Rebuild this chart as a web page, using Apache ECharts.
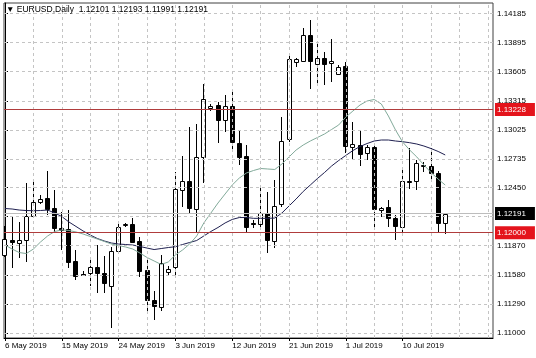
<!DOCTYPE html>
<html><head><meta charset="utf-8">
<script src="https://cdn.jsdelivr.net/npm/echarts@6/dist/echarts.min.js"></script>
<style>html,body{margin:0;padding:0;background:#fff}#c{width:536px;height:358px}</style>
</head><body><div id="c"></div>
<script>
// Bar index 0 = 6 May 2019 (daily bars incl. Sunday bars) ... 62 = 17 Jul 2019
var opens  = [1.11778,1.11930,1.11900,1.11927,1.12166,1.12306,1.12343,1.12243,1.12050,1.12034,1.11718,1.11588,1.11595,1.11661,1.11601,1.11469,1.11820,1.12072,1.12087,1.11920,1.11628,1.11329,1.11262,1.11608,1.11661,1.12426,1.12518,1.12233,1.12752,1.13243,1.13273,1.13123,1.13263,1.12897,1.12765,1.12092,1.12087,1.12194,1.11920,1.12286,1.12931,1.13702,1.13712,1.13971,1.13679,1.13737,1.13687,1.13582,1.13662,1.12859,1.12874,1.12791,1.12857,1.12226,1.12253,1.12144,1.12060,1.12520,1.12520,1.12665,1.12665,1.12598,1.12101];
var highs  = [1.12067,1.12159,1.12110,1.12492,1.12525,1.12376,1.12618,1.12426,1.12210,1.12226,1.11828,1.11618,1.11728,1.11877,1.11767,1.11860,1.12110,1.12097,1.12144,1.11960,1.11728,1.11419,1.11778,1.11668,1.12608,1.12765,1.13051,1.13084,1.13482,1.13283,1.13306,1.13373,1.13430,1.13024,1.12874,1.12126,1.12459,1.12409,1.12525,1.13156,1.13772,1.13742,1.14041,1.14121,1.13904,1.13804,1.13928,1.13672,1.13705,1.13107,1.13017,1.12874,1.12864,1.12261,1.12326,1.12177,1.12625,1.12847,1.12725,1.12700,1.12844,1.12618,1.12193];
var lows   = [1.11758,1.11645,1.11748,1.11711,1.12156,1.12286,1.12176,1.12010,1.11827,1.11645,1.11528,1.11568,1.11468,1.11396,1.11402,1.11047,1.11807,1.12057,1.11897,1.11561,1.11219,1.11130,1.11219,1.11578,1.11578,1.12259,1.12186,1.11994,1.12492,1.13213,1.12891,1.13007,1.12807,1.12675,1.12010,1.12047,1.12027,1.11794,1.11844,1.12256,1.12907,1.13655,1.13702,1.13430,1.13462,1.13472,1.13502,1.13572,1.12791,1.12725,1.12665,1.12725,1.12044,1.12160,1.12060,1.11927,1.11994,1.12433,1.12426,1.12608,1.12520,1.11994,1.11991];
var closes = [1.11937,1.11905,1.11930,1.12166,1.12303,1.12336,1.12233,1.12044,1.12025,1.11711,1.11568,1.11583,1.11655,1.11601,1.11501,1.11817,1.12060,1.12082,1.11910,1.11621,1.11329,1.11272,1.11701,1.11638,1.12433,1.12518,1.12243,1.12752,1.13330,1.13263,1.13123,1.13263,1.12907,1.12758,1.12054,1.12082,1.12194,1.11927,1.12266,1.12917,1.13729,1.13727,1.13971,1.13712,1.13742,1.13679,1.13707,1.13649,1.12864,1.12884,1.12784,1.12851,1.12233,1.12251,1.12144,1.12067,1.12518,1.12510,1.12697,1.12675,1.12595,1.12099,1.12191];
var maSlow = [1.12241,1.12236,1.12226,1.12221,1.12219,1.12221,1.12226,1.12196,1.12161,1.12107,1.12062,1.12017,1.11977,1.11942,1.11917,1.11897,1.11887,1.11882,1.11877,1.11862,1.11847,1.11832,1.11842,1.11852,1.11860,1.11882,1.11902,1.11922,1.11967,1.12012,1.12052,1.12097,1.12132,1.12151,1.12151,1.12143,1.12143,1.12143,1.12146,1.12196,1.12266,1.12336,1.12411,1.12475,1.12540,1.12600,1.12665,1.12720,1.12770,1.12819,1.12859,1.12889,1.12914,1.12924,1.12924,1.12914,1.12907,1.12897,1.12884,1.12864,1.12839,1.12810,1.12775];
var maFast = [1.11877,1.11837,1.11802,1.11792,1.11837,1.11907,1.11967,1.12012,1.12027,1.12022,1.12007,1.11987,1.11962,1.11937,1.11912,1.11887,1.11872,1.11857,1.11837,1.11797,1.11753,1.11718,1.11683,1.11708,1.11778,1.11827,1.11887,1.11967,1.12097,1.12196,1.12296,1.12386,1.12475,1.12545,1.12595,1.12620,1.12640,1.12635,1.12630,1.12685,1.12755,1.12824,1.12874,1.12914,1.12949,1.12984,1.13029,1.13074,1.13153,1.13213,1.13273,1.13313,1.13328,1.13283,1.13163,1.13024,1.12904,1.12824,1.12755,1.12675,1.12600,1.12535,1.12475];
var yTicks = [1.11000,1.11290,1.11580,1.11870,1.12160,1.12450,1.12735,1.13025,1.13315,1.13605,1.13895,1.14185];
var xTickIdx = [0,8,16,24,32,40,48,56];
var xTickLabels = ['6 May 2019','15 May 2019','24 May 2019','3 Jun 2019','12 Jun 2019','21 Jun 2019','1 Jul 2019','10 Jul 2019'];
var xGridIdx = [4,8,12,16,20,24,28,32,36,40,44,48,52,56,60,64,68];
var redLevels = [1.13228,1.12000];
var symbolName = 'EURUSD,Daily';

var FONT = 'Liberation Sans';
var n = closes.length;
var candleData = [];
for (var i = 0; i < n; i++) candleData.push([i, opens[i], closes[i], lows[i], highs[i]]);
var bid = closes[n-1];
var titleText = '\u25BC ' + symbolName + '  ' + [opens[n-1],highs[n-1],lows[n-1],closes[n-1]].map(function(v){return v.toFixed(5);}).join(' ');

function px(v){ return Math.round(v - 0.5) + 0.5; }
function levelLabel(bg){
  return {show: true, position: 'end', distance: 2, fontFamily: FONT, fontSize: 8, color: '#fff', backgroundColor: bg,
    padding: [3, 9, 2, 2], formatter: function(p){ return Number(p.value).toFixed(5); }};
}

var chart = echarts.init(document.getElementById('c'), null, {renderer:'canvas'});
chart.setOption({
  animation: false,
  backgroundColor: '#fff',
  title: {text: titleText, left: 6, top: 5, padding: 0,
    textStyle: {fontFamily: FONT, fontSize: 8.5, fontWeight: 'normal', color: '#000'}},
  grid: {left: 4, right: 43, top: 3, bottom: 20, show: true, borderColor: '#404040', borderWidth: 1, backgroundColor: '#fff'},
  xAxis: {type: 'value', min: -0.14, max: 68.73,
    axisLine: {show: true, onZero: false, lineStyle: {color: '#000', width: 1}},
    axisTick: {show: true, length: 3, customValues: xTickIdx, lineStyle: {color: '#000'}},
    axisLabel: {show: true, customValues: xTickIdx, align: 'left', margin: 4, fontFamily: FONT, fontSize: 8, color: '#000',
      formatter: function(v){ var k = xTickIdx.indexOf(Math.round(v)); return k >= 0 ? xTickLabels[k] : ''; }},
    splitLine: {show: false}},
  yAxis: {type: 'value', position: 'right', min: 1.1095, max: 1.1429, scale: true,
    axisLine: {show: true, lineStyle: {color: '#000', width: 1}},
    axisTick: {show: true, length: 3, inside: false, customValues: yTicks, lineStyle: {color: '#000'}},
    axisLabel: {show: true, customValues: yTicks, margin: 4, fontFamily: FONT, fontSize: 8, color: '#000',
      formatter: function(v){ return v.toFixed(5); }},
    splitLine: {show: false}},
  series: [
    {type: 'line', data: [], z: 1, silent: true,
      markLine: {silent: true, precision: 5, symbol: ['none','none'], animation: false, label: {show: false},
        lineStyle: {type: [3,3], color: '#c4c4c4', width: 1},
        data: yTicks.map(function(v){return {yAxis: v};}).concat(xGridIdx.map(function(v){return {xAxis: v};}))}},
    {type: 'line', data: [], z: 5, silent: true,
      markLine: {silent: true, precision: 5, symbol: ['none','none'], animation: false,
        lineStyle: {color: '#bdbdbd', width: 1, type: 'solid'},
        label: levelLabel('#000'),
        data: [{yAxis: bid}]}},
    {type: 'line', data: [], z: 6, silent: true,
      markLine: {silent: true, precision: 5, symbol: ['none','none'], animation: false,
        lineStyle: {color: '#b03c3c', width: 1, type: 'solid'},
        label: levelLabel('#e4141c'),
        data: redLevels.map(function(v){return {yAxis: v};})}},
    {type: 'custom', z: 3, silent: true, data: candleData, encode: {x: 0, y: [1,2,3,4]},
      renderItem: function(params, api){
        var i = api.value(0), o = api.value(1), c = api.value(2), l = api.value(3), h = api.value(4);
        var pO = api.coord([i,o]), pC = api.coord([i,c]), pL = api.coord([i,l]), pH = api.coord([i,h]);
        var x = px(pO[0]);
        var top = Math.round(Math.min(pO[1], pC[1])) + 0.5, bot = Math.round(Math.max(pO[1], pC[1])) + 0.5;
        var up = c >= o;
        var w = 4;
        return {type: 'group', children: [
          {type: 'line', shape: {x1: x, y1: Math.round(pH[1]), x2: x, y2: Math.round(pL[1])}, style: {stroke: '#000', lineWidth: 1}},
          {type: 'rect', shape: {x: x - w/2, y: top, width: w, height: Math.max(bot - top, 1)}, style: {fill: up ? '#fff' : '#000', stroke: '#000', lineWidth: 1}}
        ]};
      }},
    {type: 'line', z: 4, silent: true, showSymbol: false, data: maSlow.map(function(v,i){return [i,v];}),
      lineStyle: {color: '#1f2050', width: 1}},
    {type: 'line', z: 4, silent: true, showSymbol: false, data: maFast.map(function(v,i){return [i,v];}),
      lineStyle: {color: '#82aa9a', width: 1}}
  ]
});
</script></body></html>
